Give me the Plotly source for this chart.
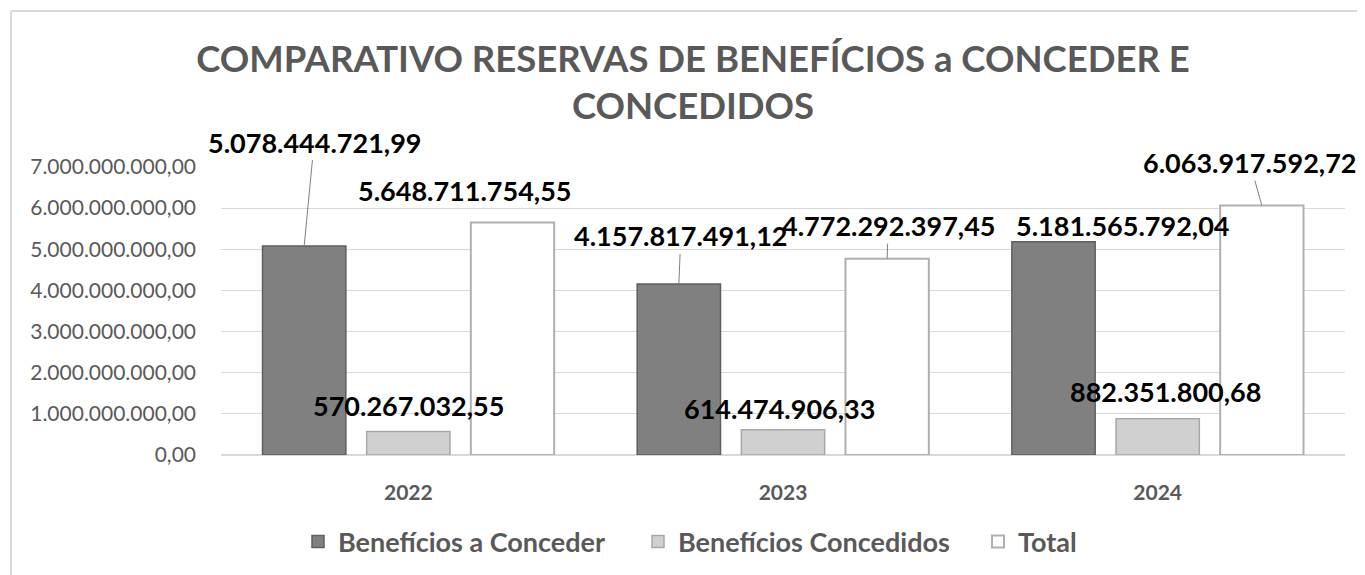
import plotly.graph_objects as go

years = ["2022", "2023", "2024"]
a_conceder = [5078444721.99, 4157817491.12, 5181565792.04]
concedidos = [570267032.55, 614474906.33, 882351800.68]
total = [5648711754.55, 4772292397.45, 6063917592.72]
series_names = ["Benefícios a Conceder", "Benefícios Concedidos", "Total"]
y_ticks = [0, 1e9, 2e9, 3e9, 4e9, 5e9, 6e9, 7e9]


def br(v, dec=2):
    s = f"{v:,.{dec}f}"
    return s.replace(",", "X").replace(".", ",").replace("X", ".")


FONT = "Lato"
GRAY = "#595959"
W, H = 1357, 567  # page body has an 8px margin

xpos = list(range(len(years)))
fig = go.Figure()
styles = [
    dict(color="#808080", line=dict(color="#5f5f5f", width=1.5)),
    dict(color="#d0d0d0", line=dict(color="#a8a8a8", width=1.5)),
    dict(color="#ffffff", line=dict(color="#b0b0b0", width=2)),
]
for name, vals, st in zip(series_names, [a_conceder, concedidos, total], styles):
    fig.add_trace(go.Bar(x=xpos, y=vals, name=name, marker=st))

# label placement: (series index, category) -> (offset px x, offset px y, leader line)
slot = 0.834 / 3
offsets = [-slot, 0, slot]
label_cfg = {
    (0, 0): (10, -104, True), (1, 0): (0, -26, False), (2, 0): (-48, -32, False),
    (0, 1): (2, -48, True), (1, 1): (-4, -21, False), (2, 1): (1, -33, True),
    (0, 2): (69, -16, False), (1, 2): (8, -27, False), (2, 2): (-12, -43, True),
}
annotations = []
for si, vals in enumerate([a_conceder, concedidos, total]):
    for ci, v in enumerate(vals):
        dx, dy, arrow = label_cfg[(si, ci)]
        base = dict(x=ci + offsets[si], y=v, xref="x", yref="y",
                    text="<b>" + br(v) + "</b>",
                    font=dict(family=FONT, size=27, color="#000000"))
        if arrow:
            base.update(showarrow=True, arrowhead=0, arrowwidth=1,
                        arrowcolor="#7f7f7f", ax=dx, ay=dy)
        else:
            base.update(showarrow=False, xshift=dx, yshift=-dy)
        annotations.append(base)

fig.update_layout(
    width=W, height=H,
    margin=dict(l=213, r=20, t=159, b=120, autoexpand=False),
    paper_bgcolor="white", plot_bgcolor="white",
    barmode="group", bargap=0.166, bargroupgap=0.2,
    title=dict(
        text="<b>COMPARATIVO RESERVAS DE BENEFÍCIOS a CONCEDER E<br>CONCEDIDOS</b>",
        font=dict(family=FONT, size=36.5, color=GRAY),
        x=(693 - 8) / W, xanchor="center", xref="container",
        y=1 - 64 / H, yanchor="top", yref="container",
    ),
    xaxis=dict(range=[-0.5, 2.5], tickvals=xpos,
               ticktext=["<b>" + y + "</b>" for y in years],
               tickfont=dict(family=FONT, size=21, color=GRAY),
               showgrid=False, zeroline=False, showline=False,
               ticks="", ticklabelstandoff=23, automargin=False),
    yaxis=dict(range=[0, 7e9], tickvals=y_ticks,
               ticktext=[br(v) for v in y_ticks],
               tickfont=dict(family=FONT, size=21, color=GRAY),
               showgrid=True, gridcolor="#d9d9d9", gridwidth=1,
               zeroline=True, zerolinecolor="#d9d9d9", zerolinewidth=2,
               showline=False, ticks="", ticklabelstandoff=24, automargin=False),
    legend=dict(orientation="h", x=290 / W, xanchor="left", xref="container",
                y=33 / H, yanchor="middle", yref="container",
                font=dict(family=FONT, size=27, color=GRAY, weight="bold"),
                traceorder="normal", itemwidth=30,
                entrywidth=295, entrywidthmode="pixels"),
    annotations=annotations,
    showlegend=True,
)
# outer chart frame (left and top edges)
fig.add_shape(type="line", xref="paper", yref="paper",
              x0=(11 - 221) / 1124, x1=(11 - 221) / 1124,
              y0=(455 - 11) / 288, y1=(455 - 600) / 288,
              line=dict(color="#d9d9d9", width=2))
fig.add_shape(type="line", xref="paper", yref="paper",
              x0=(11 - 221) / 1124, x1=(1400 - 221) / 1124,
              y0=(455 - 11) / 288, y1=(455 - 11) / 288,
              line=dict(color="#d9d9d9", width=2))

fig.write_html("out.html")
